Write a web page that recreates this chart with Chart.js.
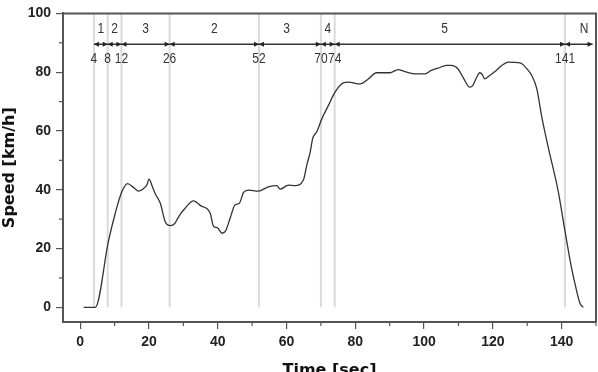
<!DOCTYPE html>
<html>
<head>
<meta charset="utf-8">
<script src="https://cdn.jsdelivr.net/npm/chart.js@4.4.1/dist/chart.umd.min.js"></script>
<style>
  html, body { margin: 0; padding: 0; background: #fff; }
  #wrap { width: 598px; height: 372px; }
</style>
</head>
<body>
<div id="wrap"><canvas id="speedChart" width="598" height="372"></canvas></div>
<script>
// speed trace
const timeSec = [1, 4.4, 8.2, 10.2, 12.1, 13.8, 15.5, 17, 18.5, 19.4, 20, 21, 21.8, 23.3, 24.7, 26.2, 27.5, 28.6, 30.5, 33,
  35, 37.8, 38.8, 39.9, 41.2, 42.2, 43.6, 45, 46.3, 47.5, 48.9, 51.8, 54.7, 57.2, 58.1, 60.6, 62.5, 64.9, 65.9, 66.9,
  67.6, 68.8, 70.3, 72.2, 74.1, 76.5, 78, 81.4, 83.8, 86.2, 90.1, 92.4, 94.4, 97.8, 100.2, 102.1, 104.1, 106.5, 107.9, 109.9,
  111.3, 113.3, 114.2, 115.2, 116.2, 117, 117.6, 119.1, 121, 122.6, 124.5, 127.9, 130.3, 131.3, 132.8, 134.2, 136.1, 139, 141, 142.9,
  144.4, 145.3, 146.3];
const speedKmh = [0, 0, 22.4, 32, 39.3, 42.1, 40.8, 39.5, 40.5, 41.6, 43.6, 41, 38.7, 35.4, 29.2, 27.8, 28.5, 30.8, 33.7, 36.2,
  34.6, 32, 27.5, 27.1, 25.2, 25.8, 30.3, 34.8, 35.4, 39.1, 39.9, 39.5, 41, 41.4, 40.2, 41.6, 41.4, 43.3, 48.4, 52.9,
  57.4, 59.7, 64.2, 68.7, 73.2, 76.4, 76.6, 76, 77.7, 79.8, 79.8, 80.9, 80.2, 79.4, 79.4, 80.6, 81.4, 82.3, 82.3, 81.1,
  78.3, 74.9, 75.5, 78, 79.8, 79.1, 77.7, 78.9, 80.6, 82.3, 83.4, 83.2, 80.6, 78.9, 74.3, 65, 54.5, 39.5, 25.8, 13.3,
  5.4, 1.5, 0];

// phase boundaries and their names
const boundaries = [4, 8, 12, 26, 52, 70, 74, 141];
const arrowEnd = 149;
const segmentNames = ['1', '2', '3', '2', '3', '4', '5', 'N'];
const segmentCenters = [6, 10, 19, 39, 60, 72, 106, 146.5];

const xTicks = [0, 20, 40, 60, 80, 100, 120, 140];
const yTicks = [0, 20, 40, 60, 80, 100];

// levels (in km/h) used for the phase annotation
const ARROW_LEVEL = 89.5;
const NAME_LEVEL = 94.6;
const VALUE_LEVEL = 84.4;

const AXIS_COLOR = '#555';
const tickFont = { family: '"Liberation Sans", Arial, sans-serif', size: 14, weight: 'bold' };
const titleFont = { family: '"DejaVu Sans", sans-serif', size: 16, weight: 'bold', lineHeight: 1 };
const noteFont = '15px "Liberation Sans", Arial, sans-serif';
const NOTE_SQUEEZE = 0.8; // narrow look of the annotation digits

const arrowHead = (ctx, px, py, dir) => {
  ctx.beginPath();
  ctx.moveTo(px, py);
  ctx.lineTo(px - dir * 5, py - 2.5);
  ctx.lineTo(px - dir * 5, py + 2.5);
  ctx.closePath();
  ctx.fill();
};

const narrowText = (ctx, text, px, py) => {
  ctx.save();
  ctx.translate(px, py);
  ctx.scale(NOTE_SQUEEZE, 1);
  ctx.fillText(text, 0, 0);
  ctx.restore();
};

const phasePlugin = {
  id: 'phases',
  beforeDatasetsDraw(chart) {
    const { ctx, scales: { x, y } } = chart;
    ctx.save();
    ctx.strokeStyle = '#dadada';
    ctx.lineWidth = 2;
    boundaries.forEach(b => {
      const px = x.getPixelForValue(b);
      ctx.beginPath();
      ctx.moveTo(px, y.getPixelForValue(100));
      ctx.lineTo(px, y.getPixelForValue(0));
      ctx.stroke();
    });
    ctx.restore();
  },
  afterDraw(chart) {
    const { ctx, chartArea: area, scales: { x, y } } = chart;
    ctx.save();

    // box round the plot
    ctx.strokeStyle = AXIS_COLOR;
    ctx.lineWidth = 2;
    ctx.beginPath();
    ctx.moveTo(area.left, area.top);
    ctx.lineTo(area.right, area.top);
    ctx.lineTo(area.right, area.bottom);
    ctx.stroke();

    // minor ticks half way between labelled ones
    ctx.lineWidth = 1.2;
    xTicks.forEach(v => {
      const m = v + 10;
      if (m > x.max) return;
      const px = x.getPixelForValue(m);
      ctx.beginPath();
      ctx.moveTo(px, area.bottom);
      ctx.lineTo(px, area.bottom + 4);
      ctx.stroke();
    });
    yTicks.forEach(v => {
      const m = v + 10;
      if (m > y.max) return;
      const py = y.getPixelForValue(m);
      ctx.beginPath();
      ctx.moveTo(area.left, py);
      ctx.lineTo(area.left - 4, py);
      ctx.stroke();
    });

    // dimension line with arrows
    const ay = y.getPixelForValue(ARROW_LEVEL);
    ctx.strokeStyle = '#333';
    ctx.fillStyle = '#222';
    ctx.lineWidth = 1.3;
    ctx.beginPath();
    ctx.moveTo(x.getPixelForValue(boundaries[0]), ay);
    ctx.lineTo(x.getPixelForValue(arrowEnd), ay);
    ctx.stroke();
    const stops = boundaries.concat([arrowEnd]);
    stops.forEach((b, i) => {
      const px = x.getPixelForValue(b);
      if (i > 0) arrowHead(ctx, px, ay, 1);
      if (i < stops.length - 1) arrowHead(ctx, px, ay, -1);
    });

    // texts
    ctx.font = noteFont;
    ctx.fillStyle = '#333';
    ctx.textAlign = 'center';
    ctx.textBaseline = 'middle';
    segmentNames.forEach((s, i) => {
      narrowText(ctx, s, x.getPixelForValue(segmentCenters[i]), y.getPixelForValue(NAME_LEVEL));
    });
    boundaries.forEach(b => {
      narrowText(ctx, String(b), x.getPixelForValue(b), y.getPixelForValue(VALUE_LEVEL));
    });
    ctx.restore();
  }
};

new Chart(document.getElementById('speedChart'), {
  type: 'line',
  data: {
    datasets: [{
      data: timeSec.map((t, i) => ({ x: t, y: speedKmh[i] })),
      borderColor: '#333',
      borderWidth: 1.3,
      pointRadius: 0,
      cubicInterpolationMode: 'monotone',
      fill: false
    }]
  },
  options: {
    responsive: false,
    animation: false,
    devicePixelRatio: 1,
    layout: { padding: { top: 11, right: 2, left: 0, bottom: 0 } },
    plugins: {
      legend: { display: false },
      tooltip: { enabled: false }
    },
    scales: {
      x: {
        type: 'linear',
        min: -5,
        max: 150,
        afterBuildTicks: scale => { scale.ticks = xTicks.map(v => ({ value: v })); },
        afterFit: scale => { scale.height = 50; },
        grid: { drawOnChartArea: false, tickLength: 7, color: AXIS_COLOR, lineWidth: 1.2 },
        border: { color: AXIS_COLOR, width: 2 },
        ticks: { font: tickFont, color: '#222', padding: 5, maxRotation: 0 },
        title: { display: true, text: 'Time [sec]', font: titleFont, color: '#111', padding: { top: 0, bottom: -7 } }
      },
      y: {
        type: 'linear',
        min: -5,
        max: 100,
        afterBuildTicks: scale => { scale.ticks = yTicks.map(v => ({ value: v })); },
        afterFit: scale => { scale.width = 63; },
        grid: { drawOnChartArea: false, tickLength: 7, color: AXIS_COLOR, lineWidth: 1.2 },
        border: { color: AXIS_COLOR, width: 2 },
        ticks: { font: tickFont, color: '#222', padding: 5 },
        title: { display: true, text: 'Speed [km/h]', font: titleFont, color: '#111', padding: { top: 2, bottom: 0 } }
      }
    }
  },
  plugins: [phasePlugin]
});
</script>
</body>
</html>
